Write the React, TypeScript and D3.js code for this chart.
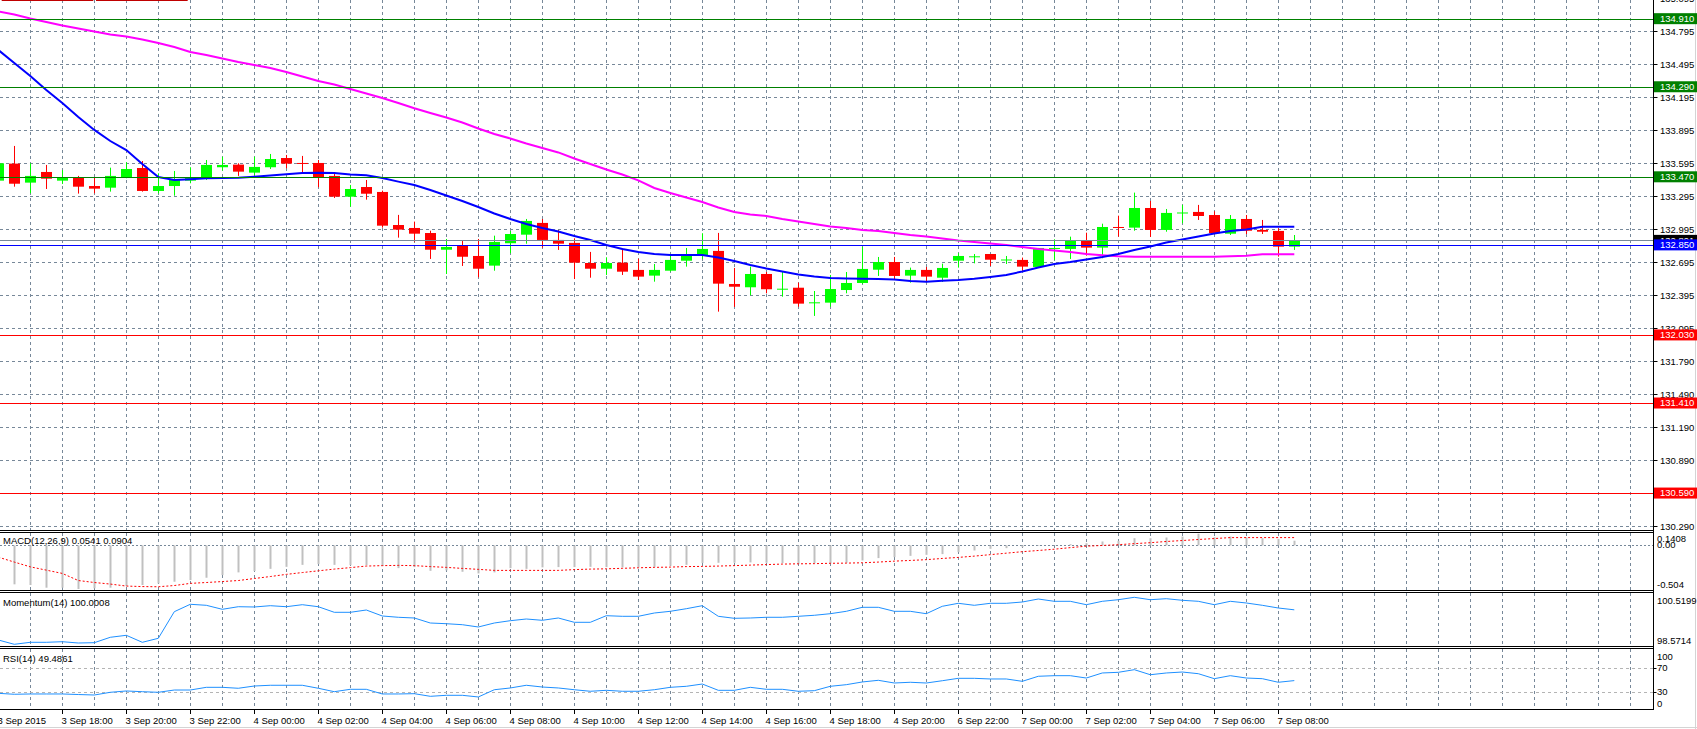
import React, { useEffect, useRef } from 'react';
import * as d3 from 'd3';

// bar index -1 .. 80 (M30 bars)
const opens = [
  133.435, 133.590, 133.417, 133.514, 133.435, 133.468, 133.386, 133.371, 133.468, 133.550,
  133.341, 133.386, 133.435, 133.450, 133.557, 133.581, 133.508, 133.557, 133.641, 133.596,
  133.596, 133.478, 133.289, 133.377, 133.332, 133.031, 133.004, 132.958, 132.806, 132.843,
  132.749, 132.661, 132.865, 132.943, 133.050, 132.895, 132.868, 132.685, 132.633, 132.688,
  132.622, 132.570, 132.615, 132.706, 132.755, 132.795, 132.494, 132.464, 132.585, 132.446,
  132.460, 132.321, 132.324, 132.439, 132.503, 132.624, 132.694, 132.570, 132.622, 132.551,
  132.706, 132.740, 132.767, 132.713, 132.713, 132.649, 132.816, 132.813, 132.886, 132.825,
  133.013, 133.007, 133.186, 132.986, 133.141, 133.150, 133.122, 132.952, 133.086, 132.986,
  132.977, 132.834,
];
const highs = [
  133.623, 133.751, 133.593, 133.578, 133.532, 133.478, 133.466, 133.553, 133.602, 133.614,
  133.502, 133.523, 133.557, 133.623, 133.653, 133.593, 133.653, 133.678, 133.669, 133.660,
  133.623, 133.508, 133.396, 133.441, 133.344, 133.123, 133.062, 132.979, 132.904, 132.886,
  132.904, 132.934, 132.977, 133.086, 133.086, 132.986, 132.910, 132.786, 132.737, 132.819,
  132.724, 132.676, 132.767, 132.822, 132.956, 132.959, 132.640, 132.652, 132.603, 132.606,
  132.506, 132.430, 132.576, 132.603, 132.834, 132.740, 132.740, 132.643, 132.649, 132.679,
  132.774, 132.767, 132.767, 132.749, 132.734, 132.822, 132.901, 132.925, 132.961, 133.043,
  133.116, 133.326, 133.250, 133.177, 133.214, 133.214, 133.156, 133.122, 133.122, 133.077,
  133.001, 132.940,
];
const lows = [
  133.414, 133.380, 133.320, 133.359, 133.405, 133.317, 133.320, 133.335, 133.457, 133.335,
  133.320, 133.298, 133.411, 133.441, 133.526, 133.478, 133.484, 133.541, 133.548, 133.502,
  133.375, 133.277, 133.198, 133.262, 133.007, 132.916, 132.879, 132.722, 132.585, 132.658,
  132.555, 132.615, 132.774, 132.861, 132.825, 132.804, 132.539, 132.551, 132.576, 132.576,
  132.530, 132.515, 132.606, 132.652, 132.722, 132.242, 132.285, 132.391, 132.409, 132.378,
  132.287, 132.203, 132.287, 132.409, 132.494, 132.567, 132.537, 132.506, 132.519, 132.512,
  132.643, 132.682, 132.658, 132.676, 132.615, 132.646, 132.713, 132.722, 132.752, 132.728,
  132.925, 132.979, 132.922, 132.970, 133.047, 133.077, 132.947, 132.940, 132.949, 132.949,
  132.743, 132.804,
];
const closes = [
  133.593, 133.407, 133.478, 133.453, 133.466, 133.380, 133.362, 133.478, 133.541, 133.341,
  133.386, 133.441, 133.466, 133.578, 133.578, 133.517, 133.560, 133.632, 133.590, 133.592,
  133.468, 133.289, 133.359, 133.316, 133.025, 132.989, 132.952, 132.806, 132.831, 132.742,
  132.633, 132.877, 132.949, 133.068, 132.895, 132.861, 132.688, 132.633, 132.685, 132.606,
  132.561, 132.622, 132.713, 132.755, 132.813, 132.497, 132.469, 132.585, 132.446, 132.451,
  132.315, 132.327, 132.448, 132.503, 132.631, 132.694, 132.567, 132.622, 132.561, 132.640,
  132.749, 132.746, 132.715, 132.717, 132.652, 132.822, 132.822, 132.889, 132.825, 133.013,
  133.007, 133.186, 132.986, 133.141, 133.145, 133.113, 132.956, 133.086, 132.979, 132.970,
  132.834, 132.891,
];
// moving averages
const maFast = [
  134.625, 134.507, 134.388, 134.261, 134.142, 134.015, 133.897, 133.796, 133.714, 133.587,
  133.468, 133.441, 133.448, 133.457, 133.459, 133.462, 133.471, 133.482, 133.493, 133.505,
  133.508, 133.505, 133.491, 133.484, 133.459, 133.426, 133.396, 133.350, 133.300, 133.250,
  133.195, 133.136, 133.086, 133.040, 133.004, 132.972, 132.931, 132.895, 132.849, 132.813,
  132.786, 132.767, 132.758, 132.758, 132.758, 132.735, 132.703, 132.667, 132.635, 132.608,
  132.581, 132.562, 132.549, 132.544, 132.542, 132.540, 132.535, 132.521, 132.515, 132.524,
  132.530, 132.542, 132.558, 132.576, 132.608, 132.644, 132.676, 132.694, 132.717, 132.740,
  132.767, 132.804, 132.836, 132.872, 132.899, 132.927, 132.954, 132.977, 132.990, 133.016,
  133.016, 133.016,
];
const maSlow = [
  134.976, 134.948, 134.912, 134.880, 134.848, 134.821, 134.794, 134.766, 134.748, 134.721,
  134.689, 134.652, 134.607, 134.580, 134.548, 134.516, 134.488, 134.461, 134.425, 134.384,
  134.343, 134.311, 134.270, 134.229, 134.188, 134.142, 134.094, 134.051, 134.010, 133.965,
  133.910, 133.860, 133.819, 133.774, 133.733, 133.692, 133.637, 133.587, 133.537, 133.491,
  133.437, 133.368, 133.323, 133.282, 133.241, 133.191, 133.150, 133.127, 133.113, 133.086,
  133.063, 133.040, 133.018, 133.004, 132.986, 132.977, 132.959, 132.940, 132.927, 132.909,
  132.890, 132.877, 132.863, 132.849, 132.831, 132.813, 132.799, 132.786, 132.767, 132.755,
  132.746, 132.743, 132.743, 132.743, 132.743, 132.743, 132.743, 132.746, 132.752, 132.764,
  132.764, 132.764,
];
const macdMain = [
  -0.435, -0.450, -0.458, -0.489, -0.489, -0.504, -0.496, -0.489, -0.470, -0.458,
  -0.439, -0.420, -0.401, -0.374, -0.343, -0.312, -0.297, -0.271, -0.248, -0.225,
  -0.216, -0.225, -0.228, -0.228, -0.239, -0.263, -0.251, -0.294, -0.289, -0.305,
  -0.324, -0.312, -0.263, -0.271, -0.254, -0.251, -0.251, -0.248, -0.251, -0.254,
  -0.254, -0.248, -0.236, -0.225, -0.205, -0.201, -0.201, -0.197, -0.201, -0.205,
  -0.213, -0.205, -0.209, -0.201, -0.174, -0.147, -0.136, -0.121, -0.109, -0.101,
  -0.078, -0.059, -0.040, -0.032, -0.021, -0.006, 0.004, 0.014, 0.025, 0.045,
  0.052, 0.083, 0.083, 0.091, 0.102, 0.135, 0.094, 0.102, 0.091, 0.083,
  0.075, 0.054,
];
const macdSignal = [
  -0.136, -0.193, -0.248, -0.286, -0.324, -0.406, -0.429, -0.447, -0.470, -0.476,
  -0.478, -0.464, -0.439, -0.429, -0.418, -0.406, -0.383, -0.360, -0.335, -0.314,
  -0.294, -0.274, -0.257, -0.239, -0.234, -0.231, -0.234, -0.245, -0.254, -0.266,
  -0.277, -0.289, -0.289, -0.289, -0.289, -0.289, -0.280, -0.274, -0.271, -0.265,
  -0.259, -0.254, -0.251, -0.245, -0.243, -0.239, -0.234, -0.228, -0.222, -0.216,
  -0.213, -0.211, -0.207, -0.205, -0.201, -0.193, -0.182, -0.174, -0.165, -0.151,
  -0.139, -0.124, -0.107, -0.090, -0.073, -0.059, -0.044, -0.026, -0.009, -0.001,
  0.008, 0.020, 0.031, 0.045, 0.056, 0.068, 0.079, 0.090, 0.090, 0.090,
  0.090, 0.090,
];
const momentum = [
  98.750, 98.571, 98.654, 98.654, 98.679, 98.625, 98.638, 98.862, 98.944, 98.654,
  98.820, 99.923, 100.230, 100.188, 100.022, 100.130, 100.118, 100.172, 100.130, 100.213,
  100.130, 99.898, 99.898, 99.993, 99.745, 99.691, 99.662, 99.454, 99.425, 99.384,
  99.289, 99.454, 99.550, 99.620, 99.566, 99.662, 99.483, 99.483, 99.757, 99.732,
  99.732, 99.869, 99.939, 100.047, 100.172, 99.732, 99.649, 99.662, 99.691, 99.691,
  99.732, 99.774, 99.840, 99.939, 100.105, 100.105, 99.939, 99.939, 99.840, 100.147,
  100.271, 100.188, 100.271, 100.271, 100.325, 100.449, 100.354, 100.354, 100.213, 100.354,
  100.420, 100.520, 100.420, 100.462, 100.396, 100.354, 100.213, 100.354, 100.284, 100.188,
  100.076, 100.001,
];
const rsi = [
  28.3, 26.7, 27.2, 27.2, 27.2, 26.3, 25.5, 30.0, 32.2, 31.0,
  30.0, 33.8, 33.8, 38.3, 38.3, 36.7, 40.5, 41.7, 41.7, 41.7,
  36.7, 31.0, 35.0, 35.0, 27.2, 27.2, 27.7, 23.3, 25.0, 25.0,
  22.2, 34.3, 37.2, 41.7, 38.8, 37.2, 34.3, 31.7, 33.3, 31.7,
  31.7, 34.3, 38.3, 40.0, 43.8, 33.3, 33.3, 38.3, 35.0, 35.0,
  31.7, 32.7, 40.0, 42.7, 47.2, 50.0, 45.5, 46.7, 45.5, 49.3,
  53.3, 53.3, 52.2, 52.2, 48.3, 56.7, 57.7, 57.7, 53.8, 62.2,
  63.3, 67.7, 59.3, 62.2, 63.8, 61.0, 52.7, 57.7, 53.8, 52.7,
  46.7, 49.5,
];

const priceTicks = [130.29, 130.59, 130.89, 131.19, 131.49, 131.79, 132.095, 132.395, 132.695, 132.995,
  133.295, 133.595, 133.895, 134.195, 134.495, 134.795, 135.095];
const timeTickBars = [-1, 3, 7, 11, 15, 19, 23, 27, 31, 35, 39, 43, 47, 51, 55, 59, 63, 67, 71, 75, 79];
const timeTickLabels = ['3 Sep 2015', '3 Sep 18:00', '3 Sep 20:00', '3 Sep 22:00', '4 Sep 00:00', '4 Sep 02:00',
  '4 Sep 04:00', '4 Sep 06:00', '4 Sep 08:00', '4 Sep 10:00', '4 Sep 12:00', '4 Sep 14:00', '4 Sep 16:00',
  '4 Sep 18:00', '4 Sep 20:00', '6 Sep 22:00', '7 Sep 00:00', '7 Sep 02:00', '7 Sep 04:00', '7 Sep 06:00',
  '7 Sep 08:00'];

const greenLevels = [134.910, 134.290, 133.470];
const redLevels = [132.030, 131.410, 130.590];
const blueLevel = 132.850;
const bidLevel = 132.891;

const FONT = '"Liberation Sans", Arial, sans-serif';
const GRID = '#778899';

const App: React.FC = () => {
  const ref = useRef<SVGSVGElement>(null);

  useEffect(() => {
    const svg = d3.select(ref.current);
    svg.selectAll('*').remove();

    const axisX = 1653.5;
    const main = { top: 0, bottom: 530 };
    const macdP = { top: 533, bottom: 590 };
    const momP = { top: 593, bottom: 646 };
    const rsiP = { top: 649, bottom: 709.5 };

    const idx = d3.range(-1, 81);
    const x = d3.scaleLinear().domain([-1, 80]).range([-1.7, 1294.3]);
    const y = d3.scaleLinear().domain([130.29, 134.795]).range([526, 31.3]);
    const yMacd = d3.scaleLinear().domain([-0.504, 0.1408]).range([589, 533.2]);
    const yMom = d3.scaleLinear().domain([98.5714, 100.5199]).range([644.3, 597.3]);
    const yRsi = d3.scaleLinear().domain([0, 100]).range([710.3, 650.3]);

    svg.append('rect').attr('width', 1697).attr('height', 729).attr('fill', '#fff');

    // vertical grid, every hour
    const gridBars = d3.range(1, 102, 2);
    [main, macdP, momP, rsiP].forEach(p => {
      svg.append('g').selectAll('line').data(gridBars).join('line')
        .attr('x1', d => Math.round(x(d)) + 0.5).attr('x2', d => Math.round(x(d)) + 0.5)
        .attr('y1', p.top).attr('y2', p.bottom)
        .attr('stroke', GRID).attr('stroke-dasharray', '3 3');
    });

    // horizontal price grid
    svg.append('g').selectAll('line').data(priceTicks).join('line')
      .attr('x1', 0).attr('x2', axisX)
      .attr('y1', d => Math.round(y(d)) + 0.5).attr('y2', d => Math.round(y(d)) + 0.5)
      .attr('stroke', GRID).attr('stroke-dasharray', '3 3');

    // macd zero, rsi levels
    svg.append('line').attr('x1', 0).attr('x2', axisX)
      .attr('y1', Math.round(yMacd(0)) + 0.5).attr('y2', Math.round(yMacd(0)) + 0.5)
      .attr('stroke', GRID).attr('stroke-dasharray', '2 2');
    svg.append('g').selectAll('line').data([70, 30]).join('line')
      .attr('x1', 0).attr('x2', axisX)
      .attr('y1', d => Math.round(yRsi(d)) + 0.5).attr('y2', d => Math.round(yRsi(d)) + 0.5)
      .attr('stroke', '#b4b4b4').attr('stroke-dasharray', '3 3');

    // candles
    const cg = svg.append('g');
    idx.forEach((k, i) => {
      const up = closes[i] >= opens[i];
      const col = up ? '#00ff00' : '#ff0000';
      const cx = Math.round(x(k)) + 0.5;
      cg.append('line').attr('x1', cx).attr('x2', cx)
        .attr('y1', y(highs[i])).attr('y2', y(lows[i]))
        .attr('stroke', col).attr('stroke-width', 1);
      const top = y(Math.max(opens[i], closes[i]));
      const bot = y(Math.min(opens[i], closes[i]));
      cg.append('rect').attr('x', cx - 5.5).attr('width', 11)
        .attr('y', top).attr('height', Math.max(1, bot - top))
        .attr('fill', col);
    });

    // moving averages
    const maLine = d3.line<number>().x((_, i) => x(idx[i])).y(d => y(d));
    svg.append('path').attr('d', maLine(maSlow)).attr('fill', 'none')
      .attr('stroke', '#ff00ff').attr('stroke-width', 2);
    svg.append('path').attr('d', maLine(maFast)).attr('fill', 'none')
      .attr('stroke', '#0000ff').attr('stroke-width', 2);

    // horizontal level lines
    const level = (v: number, col: string) => {
      const yy = Math.round(y(v)) + 0.5;
      svg.append('line').attr('x1', 0).attr('x2', axisX).attr('y1', yy).attr('y2', yy)
        .attr('stroke', col).attr('stroke-width', 1);
    };
    level(bidLevel, '#778899');
    greenLevels.forEach(v => level(v, '#008000'));
    redLevels.forEach(v => level(v, '#ff0000'));
    level(blueLevel, '#0000ff');

    // stray object at top left
    svg.append('line').attr('x1', 1.7).attr('x2', 93.3).attr('y1', 0.5).attr('y2', 0.5).attr('stroke', '#c00000');
    svg.append('line').attr('x1', 96).attr('x2', 187.7).attr('y1', 0.5).attr('y2', 0.5).attr('stroke', '#c00000');

    // macd histogram + signal
    svg.append('g').selectAll('line').data(macdMain).join('line')
      .attr('x1', (_, i) => Math.round(x(idx[i])) + 0.5).attr('x2', (_, i) => Math.round(x(idx[i])) + 0.5)
      .attr('y1', yMacd(0)).attr('y2', d => yMacd(d))
      .attr('stroke', '#c0c0c0').attr('stroke-width', 2);
    const sigLine = d3.line<number>().x((_, i) => x(idx[i])).y(d => yMacd(d));
    svg.append('path').attr('d', sigLine(macdSignal)).attr('fill', 'none')
      .attr('stroke', '#ff0000').attr('stroke-width', 1).attr('stroke-dasharray', '2 2');

    // momentum, rsi
    const momLine = d3.line<number>().x((_, i) => x(idx[i])).y(d => yMom(d));
    svg.append('path').attr('d', momLine(momentum)).attr('fill', 'none')
      .attr('stroke', '#1e90ff').attr('stroke-width', 1);
    const rsiLine = d3.line<number>().x((_, i) => x(idx[i])).y(d => yRsi(d));
    svg.append('path').attr('d', rsiLine(rsi)).attr('fill', 'none')
      .attr('stroke', '#1e90ff').attr('stroke-width', 1);

    // panel borders
    [530.5, 532.5, 590.5, 592.5, 646.5, 648.5, 709.5].forEach(yy => {
      svg.append('line').attr('x1', 0).attr('x2', axisX).attr('y1', yy).attr('y2', yy)
        .attr('stroke', '#000').attr('stroke-width', 1);
    });
    svg.append('line').attr('x1', axisX).attr('x2', axisX).attr('y1', 0).attr('y2', 710)
      .attr('stroke', '#000');
    // window frame
    svg.append('line').attr('x1', 1695.5).attr('x2', 1695.5).attr('y1', 0).attr('y2', 729).attr('stroke', '#d4d4d4');
    svg.append('line').attr('x1', 0).attr('x2', 1697).attr('y1', 727.5).attr('y2', 727.5).attr('stroke', '#d4d4d4');

    const txt = (g: any) => g.attr('font-family', FONT).attr('font-size', 9.5).attr('fill', '#000');

    // price axis labels
    const pa = svg.append('g');
    priceTicks.forEach(v => {
      const yy = Math.round(y(v)) + 0.5;
      pa.append('line').attr('x1', axisX).attr('x2', axisX + 4).attr('y1', yy).attr('y2', yy).attr('stroke', '#000');
      pa.append('text').call(txt).attr('x', 1660).attr('y', yy).attr('dy', '0.35em').text(v.toFixed(3));
    });

    // level tags
    const tag = (v: number, bg: string) => {
      const yy = y(v);
      svg.append('rect').attr('x', 1654).attr('y', yy - 5.5).attr('width', 43).attr('height', 11).attr('fill', bg);
      svg.append('text').call(txt).attr('fill', '#fff').attr('x', 1660).attr('y', yy).attr('dy', '0.35em')
        .text(v.toFixed(3));
    };
    tag(bidLevel, '#000');
    greenLevels.forEach(v => tag(v, '#008000'));
    redLevels.forEach(v => tag(v, '#ff0000'));
    tag(blueLevel, '#0000ff');

    // indicator axis labels
    const sideLabels: [string, number][] = [
      ['0.1408', yMacd(0.1408) + 5], ['0.00', yMacd(0) - 1], ['-0.504', yMacd(-0.504) - 4],
      ['100.5199', yMom(100.5199) + 3], ['98.5714', yMom(98.5714) - 4],
      ['100', yRsi(100) + 6], ['70', yRsi(70) - 1], ['30', yRsi(30) - 1], ['0', yRsi(0) - 7],
    ];
    sideLabels.forEach(([s, yy]) => {
      svg.append('text').call(txt).attr('x', 1657).attr('y', yy).attr('dy', '0.35em').text(s);
    });
    [yRsi(70), yRsi(30)].forEach(yy => {
      svg.append('line').attr('x1', axisX).attr('x2', axisX + 3).attr('y1', Math.round(yy) + 0.5)
        .attr('y2', Math.round(yy) + 0.5).attr('stroke', '#000');
    });

    // indicator titles
    svg.append('text').call(txt).attr('x', 3).attr('y', 541).attr('dy', '0.35em').text('MACD(12,26,9) 0.0541 0.0904');
    svg.append('text').call(txt).attr('x', 3).attr('y', 603).attr('dy', '0.35em').text('Momentum(14) 100.0008');
    svg.append('text').call(txt).attr('x', 3).attr('y', 658.5).attr('dy', '0.35em').text('RSI(14) 49.4861');

    // time axis
    const ta = svg.append('g');
    timeTickBars.forEach((k, i) => {
      const xx = Math.round(x(k)) + 0.5;
      ta.append('line').attr('x1', xx).attr('x2', xx).attr('y1', 710).attr('y2', 714).attr('stroke', '#000');
      ta.append('text').call(txt).attr('x', xx - 1).attr('y', 720.5).attr('dy', '0.35em').text(timeTickLabels[i]);
    });
  }, []);

  return (
    <svg ref={ref} width={1697} height={729}
      style={{ position: 'absolute', left: 0, top: 0, display: 'block' }} />
  );
};

export default App;
